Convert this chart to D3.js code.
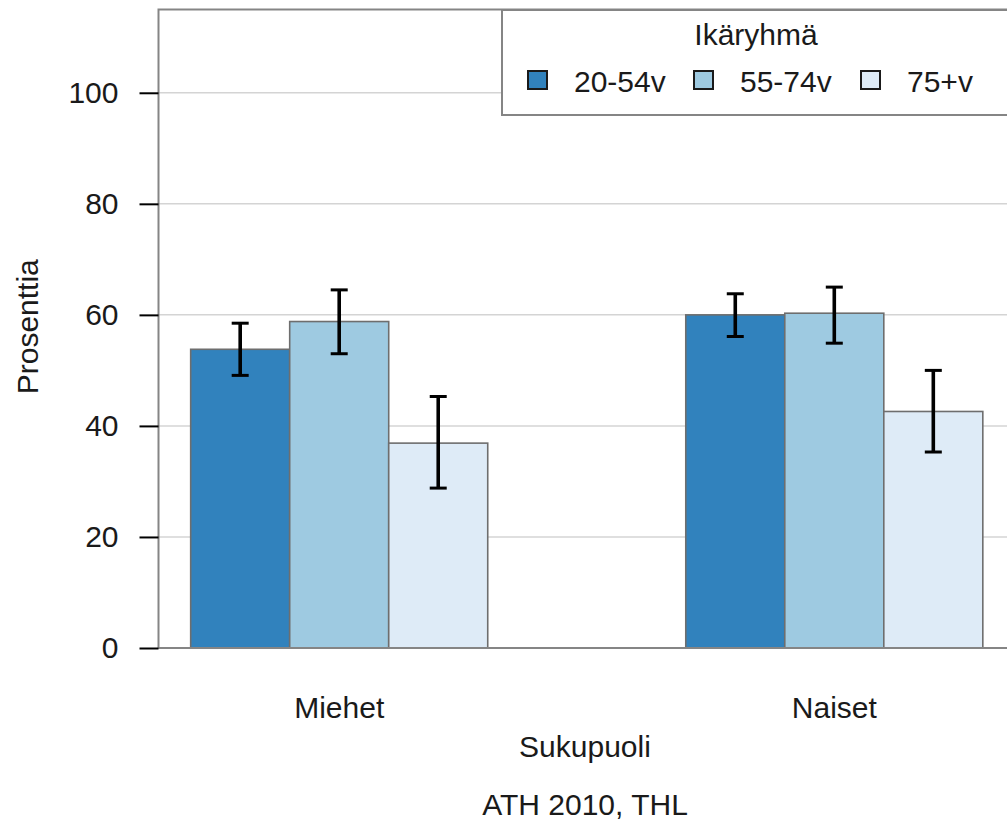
<!DOCTYPE html>
<html>
<head>
<meta charset="utf-8">
<script src="https://cdn.jsdelivr.net/npm/d3@7"></script>
<style>
  html, body { margin: 0; padding: 0; background: #fff; }
  svg { display: block; }
  text { font-family: "Liberation Sans", Arial, sans-serif; fill: #1a1a1a; }
</style>
</head>
<body>
<svg id="chart" width="1007" height="823"></svg>
<script>
const categories = ["Miehet", "Naiset"];
const series = ["20-54v", "55-74v", "75+v"];
const colors = ["#3182bd", "#9ecae1", "#deebf7"];
const values = {
  "20-54v": [53.8, 60.0],
  "55-74v": [58.8, 60.3],
  "75+v":   [36.9, 42.6]
};
const lower = {
  "20-54v": [49.1, 56.1],
  "55-74v": [53.0, 54.9],
  "75+v":   [28.8, 35.3]
};
const upper = {
  "20-54v": [58.5, 63.8],
  "55-74v": [64.5, 65.0],
  "75+v":   [45.3, 50.0]
};
const yTicks = [0, 20, 40, 60, 80, 100];

const svg = d3.select("#chart");
const pL = 158.5, pR = 1015, pT = 9.5, pB = 648;
const fs = 30;

const x = d3.scaleBand().domain(categories).range([pL, pR])
  .paddingInner(0.4).paddingOuter(0.065);
const xs = d3.scaleBand().domain(series).range([0, x.bandwidth()]);
const y = d3.scaleLinear().domain([0, 115]).range([pB, pT]);

// gridlines
svg.append("g").selectAll("line").data(yTicks.filter(d => d > 0)).join("line")
  .attr("x1", pL).attr("x2", pR)
  .attr("y1", d => y(d)).attr("y2", d => y(d))
  .attr("stroke", "#d4d4d4").attr("stroke-width", 1.5);

// bars
const rows = [];
categories.forEach((c, i) => series.forEach((s, j) => rows.push({
  c, s, j, v: values[s][i], lo: lower[s][i], hi: upper[s][i]
})));

svg.append("g").selectAll("rect").data(rows).join("rect")
  .attr("x", d => x(d.c) + xs(d.s))
  .attr("width", xs.bandwidth())
  .attr("y", d => y(d.v))
  .attr("height", d => y(0) - y(d.v))
  .attr("fill", d => colors[d.j])
  .attr("stroke", "#6e6e6e").attr("stroke-width", 1.6);

// error bars
const eb = svg.append("g").attr("stroke", "#000");
rows.forEach(d => {
  const cx = x(d.c) + xs(d.s) + xs.bandwidth() / 2;
  eb.append("line").attr("x1", cx).attr("x2", cx).attr("y1", y(d.hi)).attr("y2", y(d.lo))
    .attr("stroke-width", 3.6);
  eb.append("line").attr("x1", cx - 8.5).attr("x2", cx + 8.5).attr("y1", y(d.hi)).attr("y2", y(d.hi))
    .attr("stroke-width", 3);
  eb.append("line").attr("x1", cx - 8.5).attr("x2", cx + 8.5).attr("y1", y(d.lo)).attr("y2", y(d.lo))
    .attr("stroke-width", 3);
});

// panel border
svg.append("rect").attr("x", pL).attr("y", pT)
  .attr("width", pR - pL).attr("height", pB - pT)
  .attr("fill", "none").attr("stroke", "#858585").attr("stroke-width", 2);

// y axis
const yAxis = svg.append("g").attr("transform", `translate(${pL},0)`)
  .call(d3.axisLeft(y).tickValues(yTicks).tickSize(19).tickPadding(21).tickFormat(d3.format("d")));
yAxis.select(".domain").remove();
yAxis.selectAll(".tick line").attr("stroke", "#000").attr("stroke-width", 2);
yAxis.selectAll(".tick text").style("font-size", fs + "px")
  .style("font-family", '"Liberation Sans", Arial, sans-serif').attr("fill", "#1a1a1a");

// x axis labels
const xAxis = svg.append("g").attr("transform", `translate(0,${pB})`)
  .call(d3.axisBottom(x).tickSize(0).tickPadding(50));
xAxis.select(".domain").remove();
xAxis.selectAll(".tick text").style("font-size", fs + "px")
  .style("font-family", '"Liberation Sans", Arial, sans-serif').attr("fill", "#1a1a1a")
  .attr("dy", null).attr("y", 70);

// axis titles
svg.append("text").attr("x", 585).attr("y", 757)
  .attr("text-anchor", "middle").style("font-size", fs + "px").text("Sukupuoli");
svg.append("text").attr("x", 585).attr("y", 815)
  .attr("text-anchor", "middle").style("font-size", fs + "px").text("ATH 2010, THL");
svg.append("text").attr("transform", `translate(38,${(pT + pB) / 2 - 2}) rotate(-90)`)
  .attr("text-anchor", "middle").style("font-size", fs + "px").text("Prosenttia");

// legend
const lg = svg.append("g");
lg.append("rect").attr("x", 502).attr("y", 10).attr("width", 510).attr("height", 105)
  .attr("fill", "#fff").attr("stroke", "#858585").attr("stroke-width", 2);
lg.append("text").attr("x", 756).attr("y", 45).attr("text-anchor", "middle")
  .style("font-size", fs + "px").text("Ikäryhmä");
const itemX = [528, 694, 861];
series.forEach((s, j) => {
  lg.append("rect").attr("x", itemX[j]).attr("y", 71).attr("width", 19).attr("height", 18)
    .attr("fill", colors[j]).attr("stroke", "#1a1a1a").attr("stroke-width", 2);
  lg.append("text").attr("x", itemX[j] + 46).attr("y", 91.5)
    .style("font-size", fs + "px").text(s);
});
</script>
</body>
</html>
